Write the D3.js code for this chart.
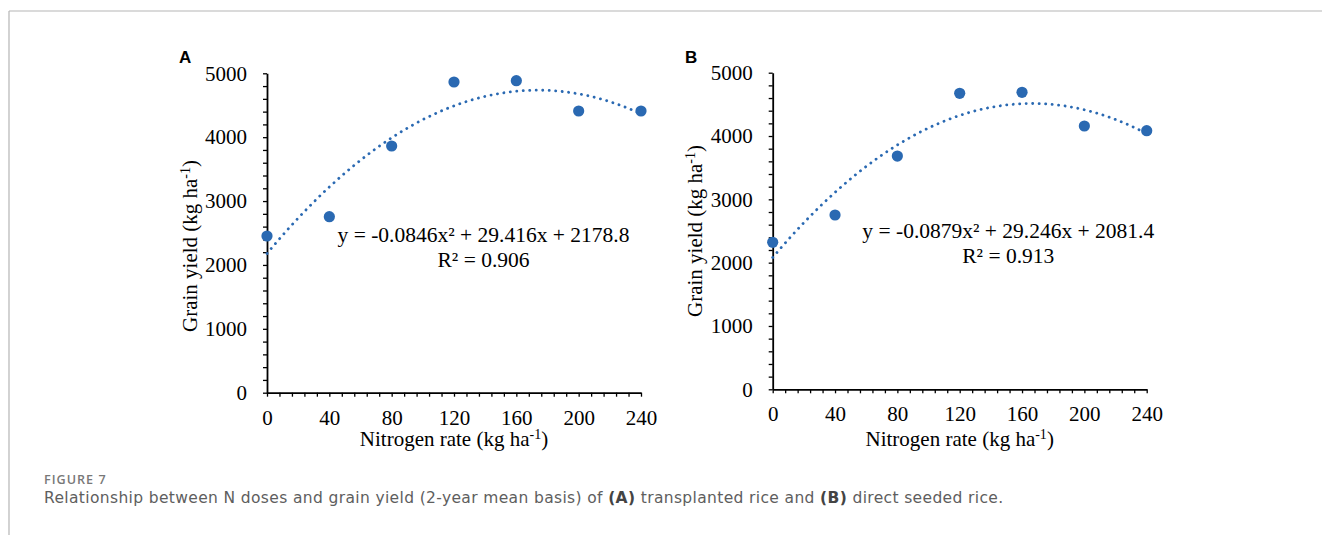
<!DOCTYPE html>
<html>
<head>
<meta charset="utf-8">
<script src="https://cdn.jsdelivr.net/npm/d3@7"></script>
<style>
body { margin: 0; background: #fff; }
svg { display: block; }
.tick text { font-family: "Liberation Serif", "Times New Roman", serif; font-size: 21px; fill: #000; }
.axis path, .axis line { stroke: #000; }
.axis path { stroke-width: 1.8; }
.axis line { stroke-width: 1.3; }
</style>
</head>
<body>
<svg id="chart" width="1322" height="535"></svg>
<script>
// nitrogen rates (kg/ha)
nRates = [0, 40, 80, 120, 160, 200, 240]
// grain yield, transplanted rice (A)
yieldA = [2453, 2755, 3862, 4864, 4884, 4410, 4410]
// grain yield, direct seeded rice (B)
yieldB = [2321, 2753, 3684, 4675, 4690, 4158, 4084]
// polynomial trendline coefficients [a, b, c] for y = a x^2 + b x + c
coefA = [-0.0846, 29.416, 2178.8]
coefB = [-0.0879, 29.246, 2081.4]
eqLabels = ["y = -0.0846x² + 29.416x + 2178.8", "y = -0.0879x² + 29.246x + 2081.4"]
r2Labels = ["R² = 0.906", "R² = 0.913"]
yTicks = [0, 1000, 2000, 3000, 4000, 5000]
xTicks = [0, 40, 80, 120, 160, 200, 240]

var blue = "#2a69b2"
var serif = '"Liberation Serif", "Times New Roman", serif'
var svg = d3.select("#chart")

// frame lines of the figure box
svg.append("line").attr("x1", 9).attr("x2", 1322).attr("y1", 11).attr("y2", 11)
    .attr("stroke", "#b5b5b5").attr("stroke-width", 1.2)
svg.append("line").attr("x1", 9).attr("x2", 9).attr("y1", 11).attr("y2", 535)
    .attr("stroke", "#b5b5b5").attr("stroke-width", 1.2)

var panels = [
    {letter: "A", data: yieldA, coef: coefA, eq: eqLabels[0], r2: r2Labels[0],
     x0: 267, x1: 641, yTop: 73.3, yBot: 392.7, letterX: 179, letterY: 63,
     eqX: 483.5, eqY: 241.5, r2Y: 266.5, ytX: 197, ytY: 246, xtY: 446},
    {letter: "B", data: yieldB, coef: coefB, eq: eqLabels[1], r2: r2Labels[1],
     x0: 772.7, x1: 1146.7, yTop: 72.7, yBot: 389.3, letterX: 685, letterY: 63,
     eqX: 1008.3, eqY: 238.3, r2Y: 263.3, ytX: 702, ytY: 231, xtY: 446}
]

panels.forEach(function (p) {
    var xScale = d3.scaleLinear().domain([0, 240]).range([p.x0, p.x1])
    var yScale = d3.scaleLinear().domain([0, 5000]).range([p.yBot, p.yTop])
    var g = svg.append("g")

    // y axis with minor ticks every 200
    g.append("g")
        .attr("class", "axis")
        .attr("transform", "translate(" + p.x0 + ",0)")
        .call(d3.axisLeft(yScale)
            .tickValues(d3.range(0, 5001, 200))
            .tickSize(4).tickSizeOuter(0).tickPadding(16)
            .tickFormat(function (d) { return yTicks.indexOf(d) >= 0 ? d : "" }))

    // x axis with minor ticks every 8
    g.append("g")
        .attr("class", "axis")
        .attr("transform", "translate(0," + p.yBot + ")")
        .call(d3.axisBottom(xScale)
            .tickValues(d3.range(0, 241, 8))
            .tickSize(4).tickSizeOuter(0).tickPadding(13)
            .tickFormat(function (d) { return xTicks.indexOf(d) >= 0 ? d : "" }))

    // trendline
    var line = d3.line()
        .x(function (d) { return xScale(d) })
        .y(function (d) { return yScale(p.coef[0] * d * d + p.coef[1] * d + p.coef[2]) })
        .curve(d3.curveBasis)
    g.append("path")
        .datum(d3.range(0, 240.01, 2))
        .attr("d", line)
        .attr("fill", "none")
        .attr("stroke", blue)
        .attr("stroke-width", 2.8)
        .attr("stroke-linecap", "round")
        .attr("stroke-dasharray", "0.1 6.4")

    // data points
    g.selectAll(".dot")
        .data(p.data)
        .enter().append("circle")
        .attr("cx", function (d, i) { return xScale(nRates[i]) })
        .attr("cy", function (d) { return yScale(d) })
        .attr("r", 5.6)
        .attr("fill", blue)

    // equation + R2
    g.append("text").attr("x", p.eqX).attr("y", p.eqY)
        .attr("text-anchor", "middle").style("font-family", serif).style("font-size", "21.5px")
        .text(p.eq)
    g.append("text").attr("x", p.eqX).attr("y", p.r2Y)
        .attr("text-anchor", "middle").style("font-family", serif).style("font-size", "21.5px")
        .text(p.r2)

    // x axis title
    var xt = g.append("text")
        .attr("x", (p.x0 + p.x1) / 2).attr("y", p.xtY)
        .attr("text-anchor", "middle").style("font-family", serif).style("font-size", "21px")
    xt.append("tspan").text("Nitrogen rate (kg ha")
    xt.append("tspan").attr("dy", -7).style("font-size", "14px").text("-1")
    xt.append("tspan").attr("dy", 7).text(")")

    // y axis title
    var yt = g.append("text")
        .attr("transform", "translate(" + p.ytX + "," + p.ytY + ") rotate(-90)")
        .attr("text-anchor", "middle").style("font-family", serif).style("font-size", "21px")
    yt.append("tspan").text("Grain yield (kg ha")
    yt.append("tspan").attr("dy", -7).style("font-size", "14px").text("-1")
    yt.append("tspan").attr("dy", 7).text(")")

    // panel letter
    g.append("text").attr("x", p.letterX).attr("y", p.letterY)
        .style("font-family", '"Liberation Sans", Arial, sans-serif')
        .style("font-weight", "bold").style("font-size", "17px")
        .text(p.letter)
})

// caption
svg.append("text").attr("x", 44).attr("y", 484)
    .style("font-family", '"Open Sans", sans-serif').style("font-size", "12.6px")
    .style("font-weight", 600).style("letter-spacing", "1px").style("fill", "#787878")
    .text("FIGURE 7")
var cap = svg.append("text").attr("x", 44).attr("y", 503)
    .style("font-family", '"DejaVu Sans", sans-serif').style("font-size", "15.5px")
    .style("letter-spacing", "0.36px")
    .style("fill", "#5e5e5e")
cap.append("tspan").text("Relationship between N doses and grain yield (2-year mean basis) of ")
cap.append("tspan").style("font-weight", "bold").style("fill", "#444").text("(A)")
cap.append("tspan").text(" transplanted rice and ")
cap.append("tspan").style("font-weight", "bold").style("fill", "#444").text("(B)")
cap.append("tspan").text(" direct seeded rice.")
</script>
</body>
</html>
